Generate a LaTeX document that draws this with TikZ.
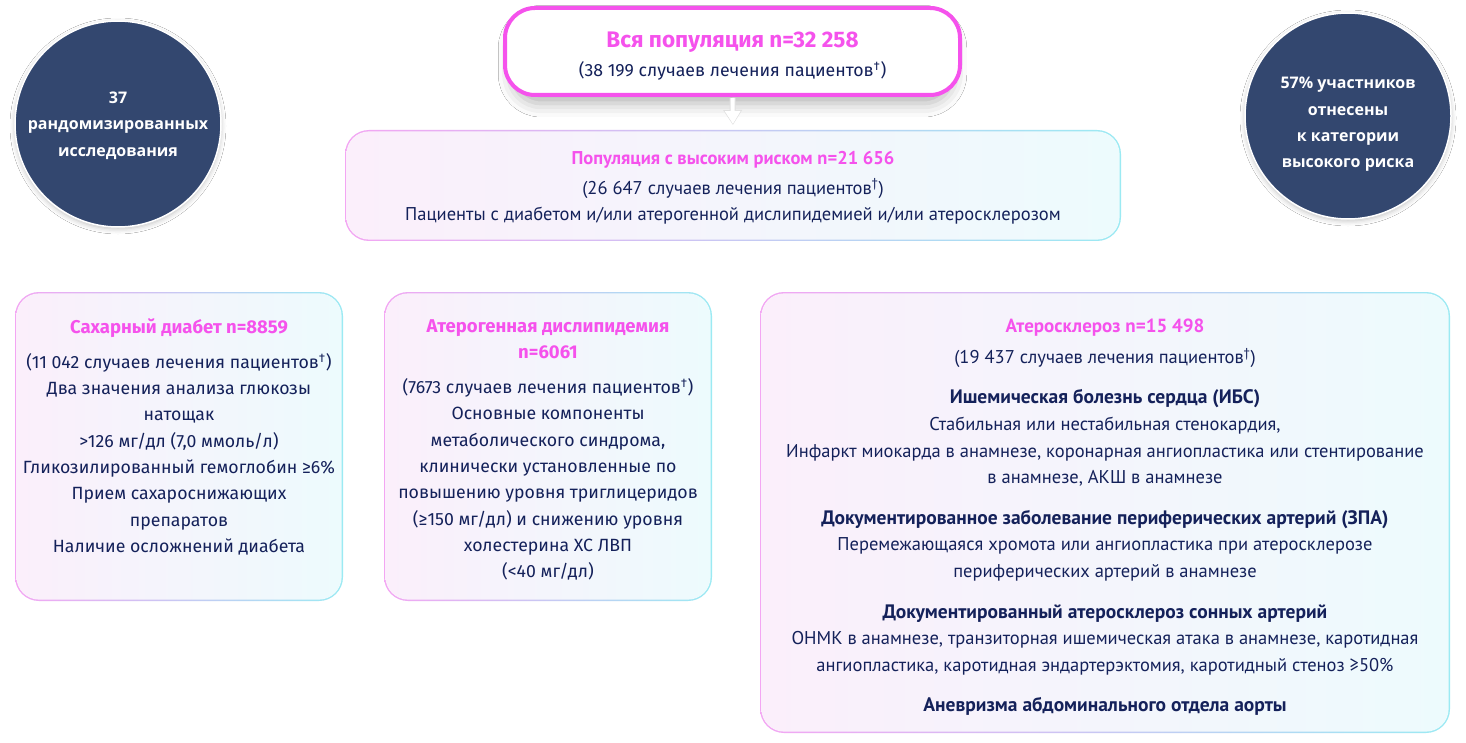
\documentclass[tikz,border=0pt]{standalone}
\usepackage{fontspec}
\setmainfont{Fira Sans}
\newfontfamily\narrowfont{PT Sans}
\newfontfamily\circfont{Open Sans}
\usetikzlibrary{shadows.blur,arrows.meta}

\definecolor{navy}{HTML}{14215A}
\definecolor{accent}{HTML}{F552EC}
\definecolor{circ}{HTML}{33476F}
\definecolor{edgeL}{HTML}{F3A6F3}
\definecolor{edgeM}{HTML}{8C8CF0}
\definecolor{edgeR}{HTML}{9BEAF3}
\definecolor{fillL}{HTML}{FBEFFB}
\definecolor{fillM}{HTML}{EEEEFB}
\definecolor{fillR}{HTML}{EDFBFD}

\newcommand\ttl[1]{{\bfseries\color{accent}\fontsize{18.5}{26}\selectfont #1}}

\tikzset{
  body/.style={align=center, text=navy, inner sep=0pt, font=\fontsize{17.7}{26.3}\selectfont},
  narrowbody/.style={align=center, text=navy, inner sep=0pt, font=\narrowfont\fontsize{18.5}{26.6}\selectfont},
  circtext/.style={align=center, text=white, inner sep=0pt, font=\circfont\bfseries\fontsize{16}{26.4}\selectfont},
  disc/.style={circle, fill=circ, draw=white, line width=1.5pt, minimum size=206pt, inner sep=0pt,
    blur shadow={shadow xshift=0pt, shadow yshift=-2pt, shadow blur radius=5pt, shadow opacity=25}},
  areabox/.style={inner sep=0pt, outer sep=0pt},
  downarrow/.style={line width=4pt, shorten <=1pt, shorten >=6pt, -{Triangle[width=15pt,length=13pt]}},
}

% rounded box with a pink-blue-cyan edge and a pale gradient fill
\newcommand\gradbox[5]{%
  \node[areabox, minimum width=#4pt, minimum height=#5pt] (#1) at (#2,#3) {};
  \shade[rounded corners=24pt, left color=edgeL, middle color=edgeM, right color=edgeR]
    (#1.north west) rectangle (#1.south east);
  \shade[rounded corners=22.6pt, left color=fillL, middle color=fillM, right color=fillR]
    ([xshift=1.4pt,yshift=-1.4pt]#1.north west) rectangle ([xshift=-1.4pt,yshift=1.4pt]#1.south east);
}

\begin{document}
\begin{tikzpicture}[x=1pt,y=-1pt]
\useasboundingbox (0,0) rectangle (1466,743);
\fill[white] (0,0) rectangle (1466,743);

% side discs
\node[disc] (lc) at (118,124) {};
\node[circtext] (lct) at (118,125.5) {37\\рандомизированных\\исследования};
\node[disc] (rc) at (1348,116) {};
\node[circtext] (rct) at (1348,124.5) {57\% участников\\отнесены\\к категории\\высокого риска};

% whole population
\node[draw=accent, line width=4pt, fill=white, rounded corners=30pt,
      minimum width=455pt, minimum height=87pt, inner sep=0pt,
      blur shadow={shadow xshift=0pt, shadow yshift=-10pt, shadow blur radius=14pt, shadow opacity=30, shadow scale=0.97}]
      (all) at (732.5,51.5) {};
\node[body] (allt) at (732.5,56) {{\bfseries\color{accent}\fontsize{22.5}{26}\selectfont Вся популяция n=32 258}\\[3pt]
  (38 199 случаев лечения пациентов\textsuperscript{†})};

% high-risk population
\gradbox{hr}{733}{185.5}{776}{111}
\node[narrowbody] (hrt) at (733,188) {{\bfseries\color{accent}\fontsize{18.5}{26}\selectfont Популяция с высоким риском n=21 656}\\[3pt]
  (26 647 случаев лечения пациентов\textsuperscript{†})\\
  Пациенты с диабетом и/или атерогенной дислипидемией и/или атеросклерозом};

% white arrow with a faint grey halo
\draw[downarrow, black!12, line width=6pt, -{Triangle[width=18pt,length=15pt]}, shorten >=5pt] (all.south) -- (hr.north);
\draw[downarrow, white] (all.south) -- (hr.north);

% diabetes
\gradbox{dm}{179}{446.5}{328}{309}
\node[body, anchor=north] (dmt) at (179,318) {\ttl{Сахарный диабет n=8859}\\[9pt]
  (11 042 случаев лечения пациентов\textsuperscript{†})\\
  Два значения анализа глюкозы\\
  натощак\\
  >126 мг/дл (7,0 ммоль/л)\\
  Гликозилированный гемоглобин ≥6\%\\
  Прием сахароснижающих\\
  препаратов\\
  Наличие осложнений диабета};

% atherogenic dyslipidemia
\gradbox{ad}{548}{446.5}{328}{309}
\node[body, anchor=north] (adt) at (548,319) {\ttl{Атерогенная дислипидемия}\\
  \ttl{n=6061}\\[9pt]
  (7673 случаев лечения пациентов\textsuperscript{†})\\
  Основные компоненты\\
  метаболического синдрома,\\
  клинически установленные по\\
  повышению уровня триглицеридов\\
  (≥150 мг/дл) и снижению уровня\\
  холестерина ХС ЛВП\\
  (<40 мг/дл)};

% atherosclerosis
\gradbox{as}{1105}{512.5}{690}{441}
\node[narrowbody, anchor=north] (ast) at (1105,319) {{\bfseries\color{accent}\fontsize{19}{26}\selectfont Атеросклероз n=15 498}\\[4pt]
  (19 437 случаев лечения пациентов\textsuperscript{†})\\[14pt]
  {\bfseries\fontsize{19.5}{26.6}\selectfont Ишемическая болезнь сердца (ИБС)}\\
  Стабильная или нестабильная стенокардия,\\
  Инфаркт миокарда в анамнезе, коронарная ангиопластика или стентирование\\
  в анамнезе, АКШ в анамнезе\\[14pt]
  {\bfseries\fontsize{19.5}{26.6}\selectfont Документированное заболевание периферических артерий (ЗПА)}\\
  Перемежающаяся хромота или ангиопластика при атеросклерозе\\
  периферических артерий в анамнезе\\[14pt]
  {\bfseries\fontsize{19.5}{26.6}\selectfont Документированный атеросклероз сонных артерий}\\
  ОНМК в анамнезе, транзиторная ишемическая атака в анамнезе, каротидная\\
  ангиопластика, каротидная эндартерэктомия, каротидный стеноз ≥50\%\\[14pt]
  {\bfseries\fontsize{19.5}{26.6}\selectfont Аневризма абдоминального отдела аорты}};
\end{tikzpicture}
\end{document}
